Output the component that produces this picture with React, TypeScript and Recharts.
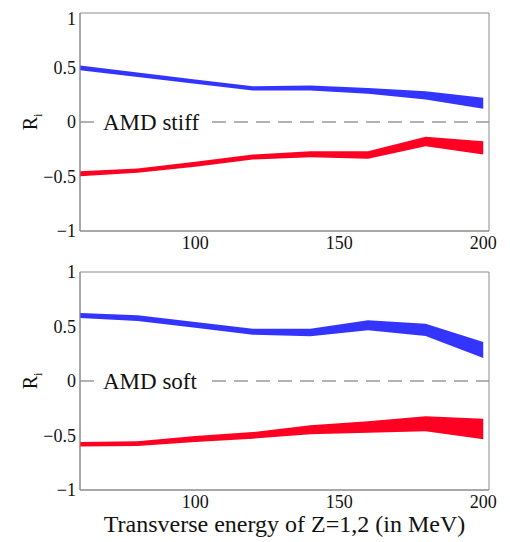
import React from "react";
import {
  ComposedChart,
  Area,
  XAxis,
  YAxis,
  ReferenceLine,
  ReferenceArea,
} from "recharts";

const FONT = "'Liberation Serif', 'Times New Roman', 'DejaVu Serif', serif";

const energies = [60, 80, 100, 120, 140, 160, 180, 200];
const xTicks = [100, 150, 200];
const yTicks = [-1, -0.5, 0, 0.5, 1];

const stiffBlueLo = [0.475, 0.413, 0.35, 0.289, 0.29, 0.259, 0.206, 0.121];
const stiffBlueHi = [0.518, 0.455, 0.39, 0.328, 0.335, 0.313, 0.283, 0.222];
const stiffRedLo = [-0.497, -0.466, -0.411, -0.344, -0.323, -0.338, -0.222, -0.298];
const stiffRedHi = [-0.451, -0.427, -0.365, -0.298, -0.268, -0.268, -0.136, -0.176];

const softBlueLo = [0.578, 0.55, 0.489, 0.425, 0.41, 0.465, 0.413, 0.211];
const softBlueHi = [0.624, 0.603, 0.541, 0.48, 0.48, 0.557, 0.526, 0.358];
const softRedLo = [-0.6, -0.596, -0.56, -0.529, -0.489, -0.474, -0.462, -0.535];
const softRedHi = [-0.56, -0.553, -0.505, -0.468, -0.407, -0.37, -0.324, -0.346];

const BLUE = "#3434ff";
const RED = "#ff0022";
const FRAME = "#8c8c8c";

const fmt = (v: number) => String(v).replace("-", "\u2212");

function buildData(bLo: number[], bHi: number[], rLo: number[], rHi: number[]) {
  return energies.map((e, i) => ({
    e,
    blue: [bLo[i], bHi[i]],
    red: [rLo[i], rHi[i]],
  }));
}

const ZeroLabel = (props: any) => {
  const { viewBox, text } = props;
  const x = viewBox.x;
  const y = viewBox.y;
  return (
    <g>
      <rect x={x + 15} y={y - 12} width={115} height={24} fill="#fff" />
      <text
        x={x + 23}
        y={y}
        dy="0.35em"
        fontFamily={FONT}
        fontSize={23}
        fill="#111"
      >
        {text}
      </text>
    </g>
  );
};

const YLabel = (props: any) => {
  const { viewBox } = props;
  const cy = viewBox.y + viewBox.height / 2;
  const bx = 29;
  return (
    <text
      transform={`translate(${bx}, ${cy}) rotate(-90)`}
      textAnchor="middle"
      fontFamily={FONT}
      fontSize={20}
      fill="#111"
    >
      R<tspan fontSize={12} dy={5}>i</tspan>
    </text>
  );
};

const XLabel = (props: any) => {
  const { viewBox } = props;
  const cx = viewBox.x + viewBox.width / 2;
  return (
    <text
      x={cx}
      y={viewBox.y + 34}
      dy="0.35em"
      textAnchor="middle"
      fontFamily={FONT}
      fontSize={24}
      fill="#111"
    >
      Transverse energy of Z=1,2 (in MeV)
    </text>
  );
};

type PanelProps = {
  data: any[];
  text: string;
  height: number;
  top: number;
  xAxisHeight: number;
  showXLabel: boolean;
};

const tickStyle = { fontFamily: FONT, fontSize: 18, fill: "#111" };

const Panel = ({ data, text, height, top, xAxisHeight, showXLabel }: PanelProps) => (
  <ComposedChart
    width={502}
    height={height}
    data={data}
    margin={{ top, right: 21, bottom: 0, left: 0 }}
  >
    <XAxis
      dataKey="e"
      type="number"
      domain={[60, 202]}
      ticks={xTicks}
      allowDataOverflow
      height={xAxisHeight}
      tickLine={false}
      tickSize={0}
      tickMargin={5}
      axisLine={{ stroke: FRAME }}
      tick={tickStyle}
      label={showXLabel ? <XLabel /> : undefined}
    />
    <YAxis
      type="number"
      domain={[-1, 1]}
      ticks={yTicks}
      width={72}
      tickLine={false}
      tickSize={0}
      tickMargin={4}
      axisLine={{ stroke: FRAME }}
      tickFormatter={fmt}
      tick={tickStyle}
      label={<YLabel />}
    />
    <ReferenceArea
      x1={60}
      x2={202}
      y1={-1}
      y2={1}
      fill="none"
      stroke={FRAME}
      strokeWidth={1}
    />
    <ReferenceLine
      y={0}
      stroke="#999"
      strokeWidth={1.3}
      strokeDasharray="14 8"
      label={<ZeroLabel text={text} />}
    />
    <Area
      type="linear"
      dataKey="blue"
      stroke="none"
      fill={BLUE}
      fillOpacity={1}
      isAnimationActive={false}
    />
    <Area
      type="linear"
      dataKey="red"
      stroke="none"
      fill={RED}
      fillOpacity={1}
      isAnimationActive={false}
    />
  </ComposedChart>
);

export default function App() {
  const stiff = buildData(stiffBlueLo, stiffBlueHi, stiffRedLo, stiffRedHi);
  const soft = buildData(softBlueLo, softBlueHi, softRedLo, softRedHi);
  return (
    <div style={{ width: 502, background: "#fff" }}>
      <Panel data={stiff} text="AMD stiff" height={250} top={5} xAxisHeight={27} showXLabel={false} />
      <Panel data={soft} text="AMD soft" height={282} top={14} xAxisHeight={50} showXLabel={true} />
    </div>
  );
}
